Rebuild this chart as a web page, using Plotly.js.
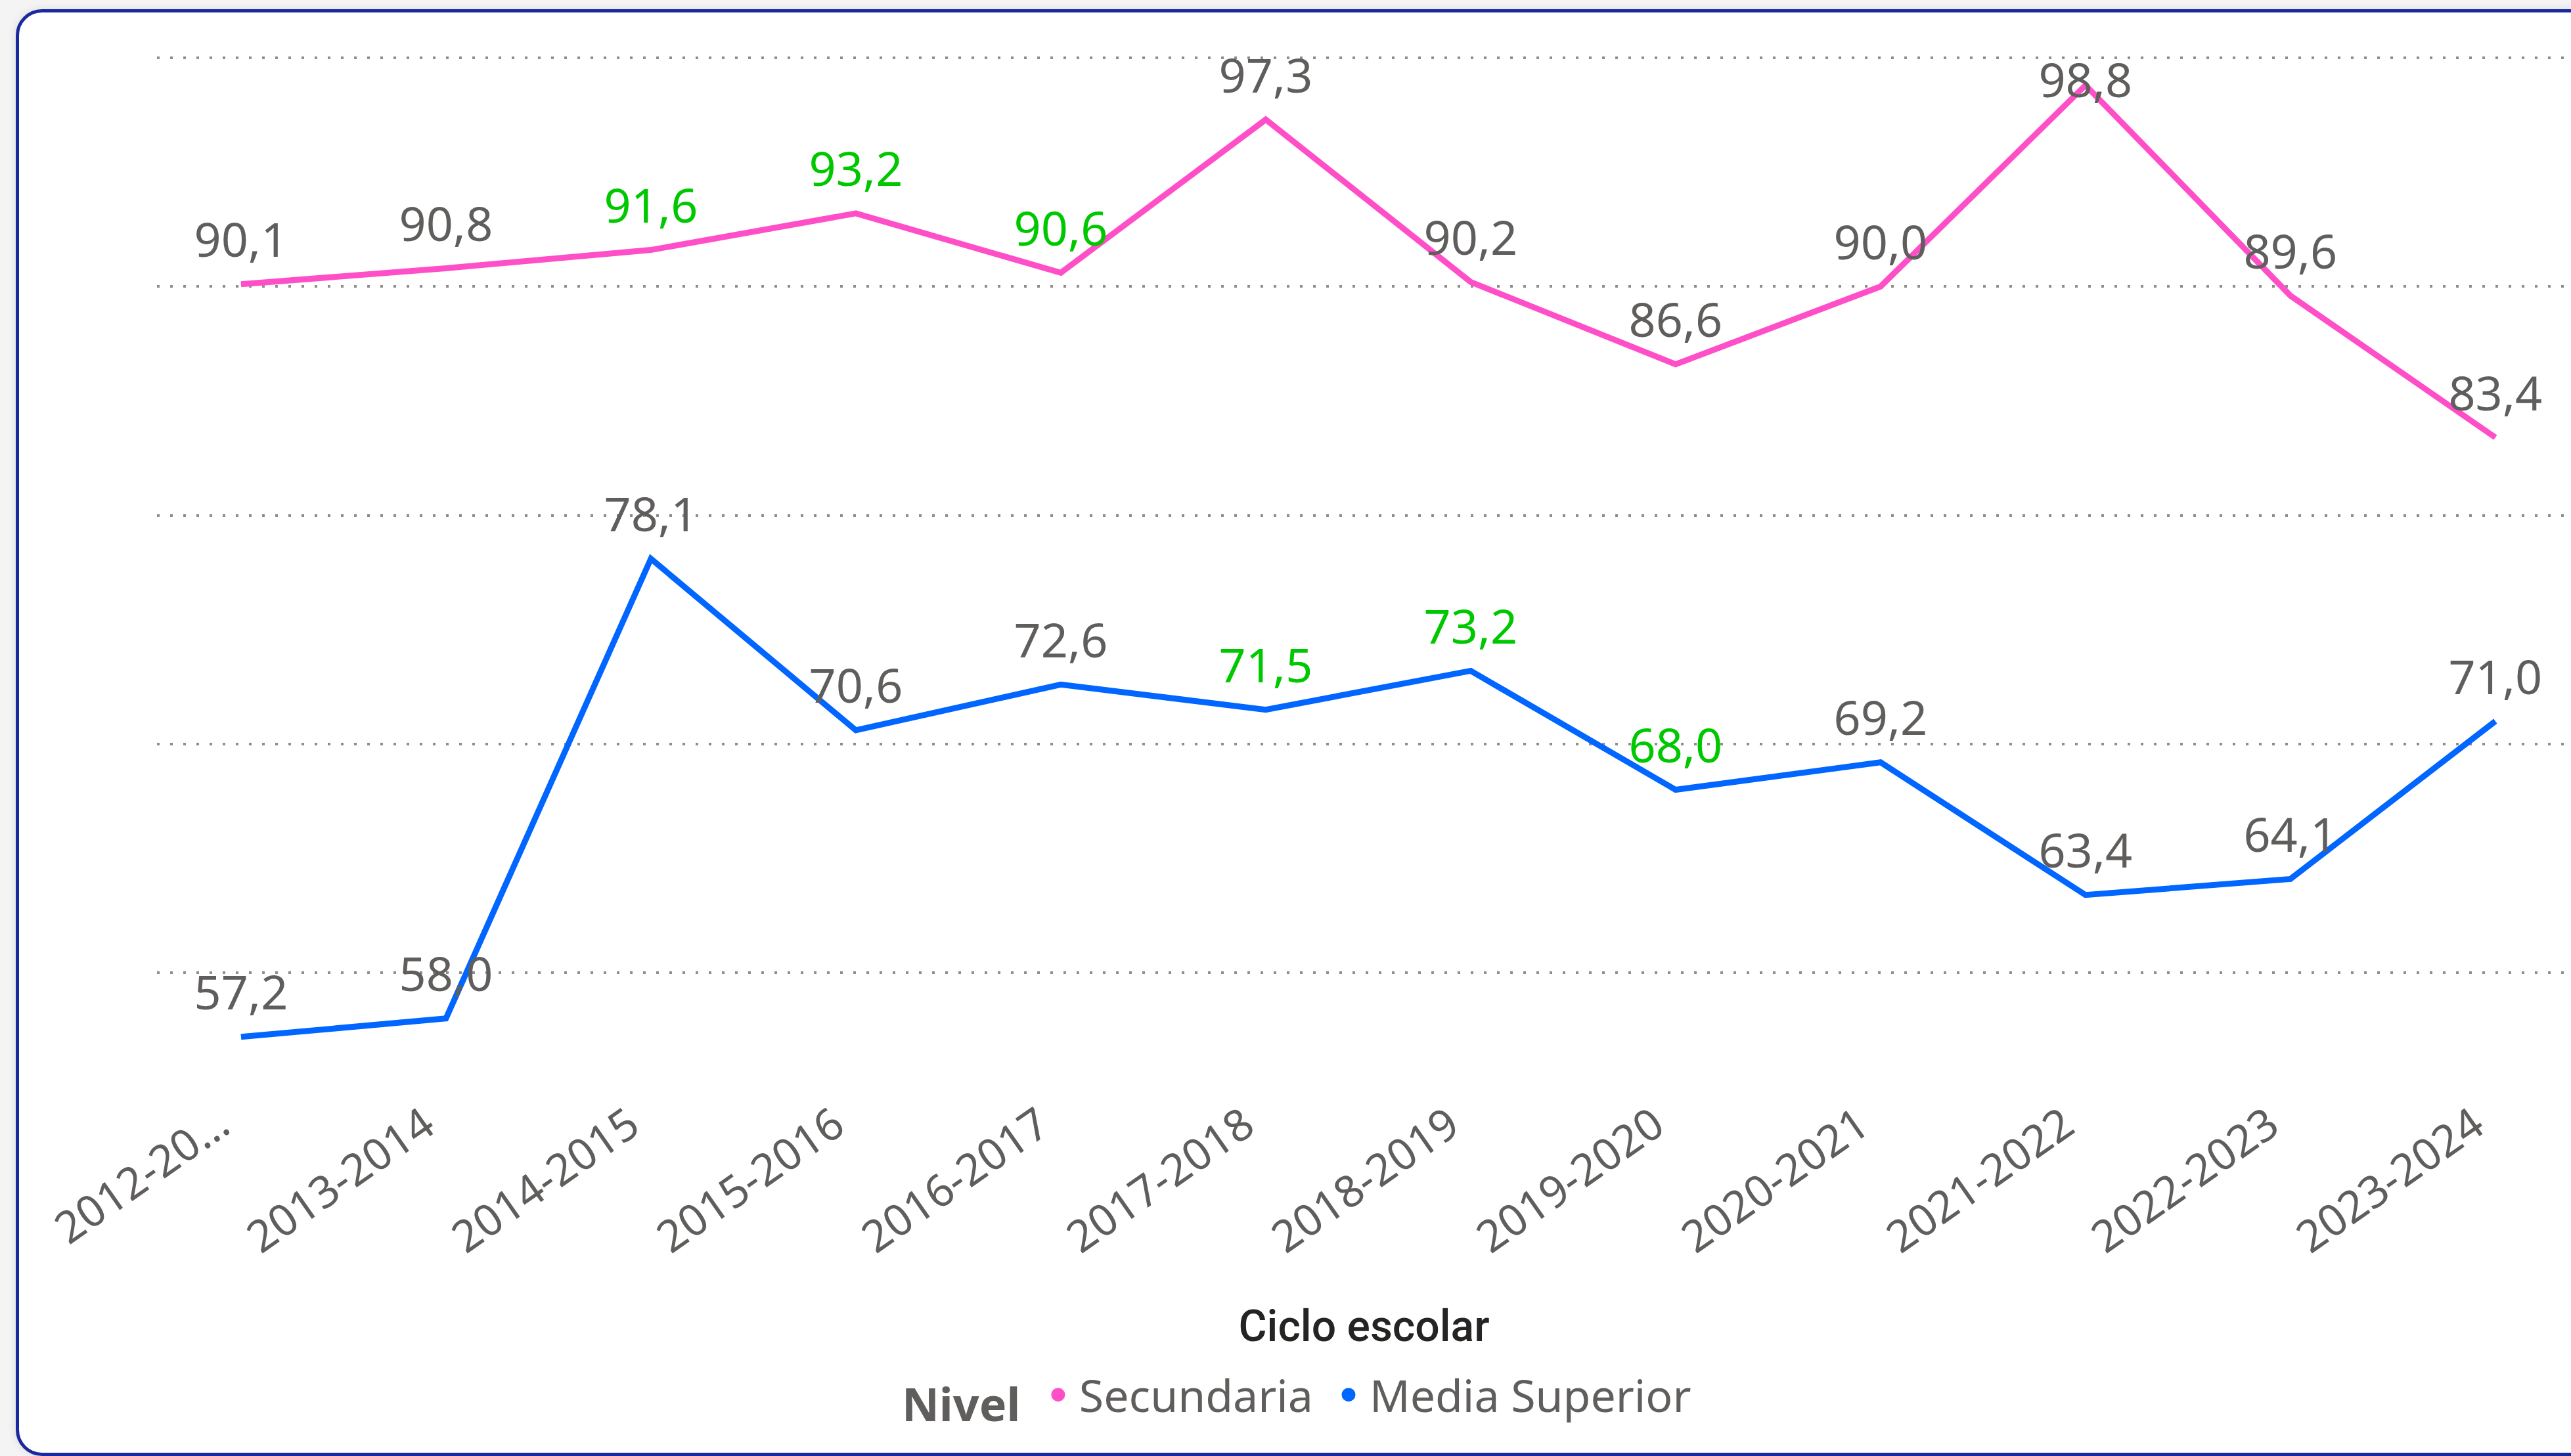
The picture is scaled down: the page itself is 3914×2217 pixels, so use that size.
<!DOCTYPE html>
<html>
<head>
<meta charset="utf-8">
<script src="https://cdn.plot.ly/plotly-3.0.1.min.js"></script>
<style>
  html, body { margin: 0; padding: 0; width: 3914px; height: 2217px; overflow: hidden; background: #f4f4f4; }
  #frame {
    position: absolute; left: 24px; top: 14px; width: 3960px; height: 2193px;
    border: 5px solid #1A2A9E; border-radius: 40px; background: #ffffff;
    box-shadow: 0 0 14px rgba(0,0,0,0.10);
  }
  #chart { position: absolute; left: 0; top: 0; width: 3914px; height: 2217px; }
</style>
</head>
<body>
<div id="frame"></div>
<div id="chart"></div>
<script>
// ---- Data ----
const categories = ['2012-2013','2013-2014','2014-2015','2015-2016','2016-2017','2017-2018',
                    '2018-2019','2019-2020','2020-2021','2021-2022','2022-2023','2023-2024'];
const tickLabels = ['2012-20…','2013-2014','2014-2015','2015-2016','2016-2017','2017-2018',
                    '2018-2019','2019-2020','2020-2021','2021-2022','2022-2023','2023-2024'];
const secundaria    = [90.1, 90.8, 91.6, 93.2, 90.6, 97.3, 90.2, 86.6, 90.0, 98.8, 89.6, 83.4];
const mediaSuperior = [57.2, 58.0, 78.1, 70.6, 72.6, 71.5, 73.2, 68.0, 69.2, 63.4, 64.1, 71.0];
// points whose data label is highlighted (conditional formatting in the original)
const secundariaHighlight    = [0,0,1,1,1,0,0,0,0,0,0,0];
const mediaSuperiorHighlight = [0,0,0,0,0,1,1,1,0,0,0,0];
const seriesNames = ['Secundaria', 'Media Superior'];
const legendTitle = 'Nivel';
const xTitle = 'Ciclo escolar';

// ---- Styles ----
const PINK = '#FF4FC8', BLUE = '#0066FF', GRAY = '#605E5C', GREEN = '#00C800';
const fmt = v => v.toFixed(1).replace('.', ',');
const labelColors = flags => flags.map(f => f ? GREEN : GRAY);

const secPos = secundaria.map(v => v >= 98.5 ? 'middle center' : 'top center');

const base = {
  type: 'scatter', mode: 'lines+markers+text', x: categories,
  marker: { size: 36, color: 'rgba(0,0,0,0)', line: { width: 0 } },
  cliponaxis: false, showlegend: false, hoverinfo: 'skip'
};

const traces = [
  Object.assign({}, base, {
    name: seriesNames[0], y: secundaria,
    line: { color: PINK, width: 9 },
    text: secundaria.map(fmt), textposition: secPos,
    textfont: { family: 'Noto Sans, Open Sans, sans-serif', size: 72, color: labelColors(secundariaHighlight) }
  }),
  Object.assign({}, base, {
    name: seriesNames[1], y: mediaSuperior,
    line: { color: BLUE, width: 9 },
    text: mediaSuperior.map(fmt), textposition: 'top center',
    textfont: { family: 'Noto Sans, Open Sans, sans-serif', size: 72, color: labelColors(mediaSuperiorHighlight) }
  }),
  // legend entries
  { type: 'scatter', mode: 'markers', x: [null], y: [null], name: seriesNames[0] + '\u2005',
    marker: { color: PINK, size: 16, line: { color: PINK, width: 5 } }, showlegend: true },
  { type: 'scatter', mode: 'markers', x: [null], y: [null], name: seriesNames[1],
    marker: { color: BLUE, size: 16, line: { color: BLUE, width: 5 } }, showlegend: true }
];

const layout = {
  width: 3914, height: 2217,
  margin: { l: 239, r: 0, t: 40, b: 557, pad: 0 },
  paper_bgcolor: 'rgba(0,0,0,0)', plot_bgcolor: 'rgba(0,0,0,0)',
  xaxis: {
    type: 'category', range: [-0.41, 11.369], fixedrange: true,
    tickvals: categories, ticktext: tickLabels, tickangle: -35,
    ticklabelshift: -32,
    tickfont: { family: 'Noto Sans, Open Sans, sans-serif', size: 67, color: GRAY },
    showgrid: false, zeroline: false, showline: false, ticks: '',
    title: { text: xTitle, standoff: 70,
             font: { family: 'Roboto, sans-serif', size: 66, weight: 500, color: '#252423' } }
  },
  yaxis: {
    range: [54.866, 101.378], fixedrange: true,
    tickvals: [60, 70, 80, 90, 100], showticklabels: false,
    showgrid: true, gridcolor: '#8E8E8E', gridwidth: 4, griddash: '4px,16px',
    zeroline: false, showline: false, ticks: ''
  },
  showlegend: true,
  legend: {
    orientation: 'h', x: 0.308, xanchor: 'left', y: -0.2864, yanchor: 'middle',
    font: { family: 'Noto Sans, Open Sans, sans-serif', size: 68, color: GRAY },
    title: { text: '<b>' + legendTitle + '</b>\u2005', side: 'left',
             font: { family: 'Noto Sans, Open Sans, sans-serif', size: 70, color: GRAY } },
    bgcolor: 'rgba(0,0,0,0)', itemwidth: 54, tracegroupgap: 0
  }
};

Plotly.newPlot('chart', traces, layout, { displayModeBar: false, staticPlot: true });
</script>
</body>
</html>
